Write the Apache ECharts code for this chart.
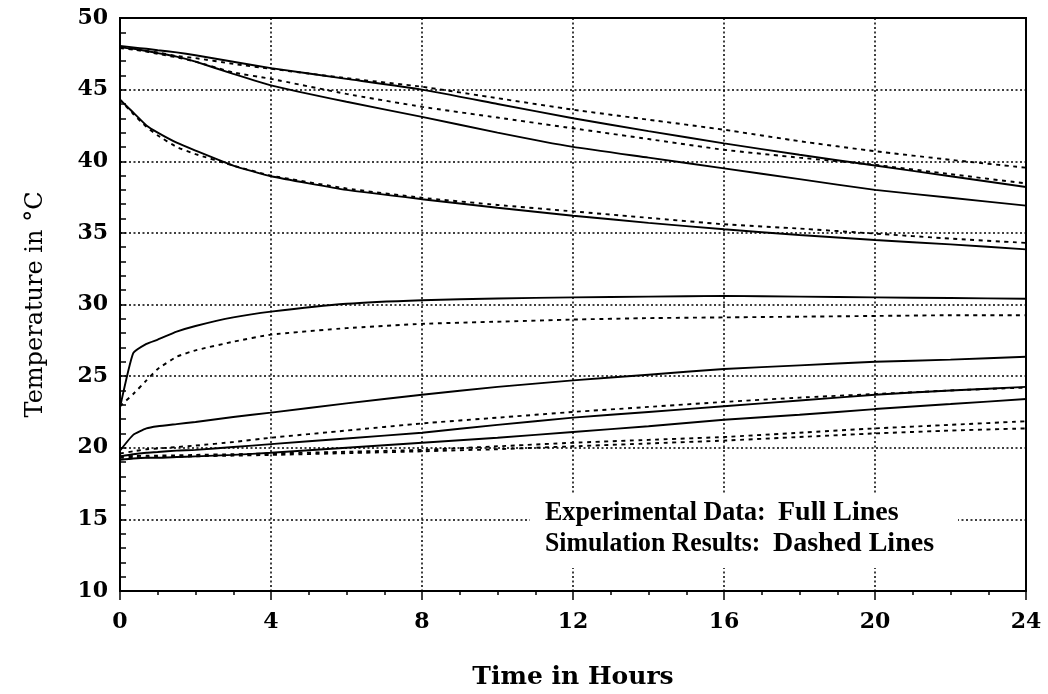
<!DOCTYPE html>
<html>
<head>
<meta charset="utf-8">
<script src="https://cdn.jsdelivr.net/npm/echarts@6/dist/echarts.min.js"></script>
<style>
html,body{margin:0;padding:0;background:#fff;}
#chart{width:1048px;height:694px;}
</style>
</head>
<body>
<div id="chart"></div>
<script>
// Time axis (hours) shared by all curves
const hours = [0, 0.35, 0.7, 1, 1.5, 2, 3, 4, 6, 8, 10, 12, 14, 16, 18, 20, 22, 24];

// Experimental data (full lines)
const exp1 = [48.05, 47.95, 47.85, 47.75, 47.6, 47.4, 46.95, 46.5, 45.75, 45.0, 44.0, 43.0, 42.1, 41.25, 40.45, 39.7, 38.95, 38.2];
const exp2 = [47.95, 47.85, 47.7, 47.55, 47.3, 46.95, 46.1, 45.3, 44.15, 43.1, 42.0, 41.0, 40.25, 39.5, 38.75, 38.0, 37.45, 36.9];
const exp3 = [44.3, 43.4, 42.5, 42.0, 41.3, 40.75, 39.7, 38.95, 38.0, 37.35, 36.75, 36.2, 35.7, 35.25, 34.85, 34.5, 34.2, 33.85];
const exp4 = [22.8, 26.6, 27.25, 27.55, 28.1, 28.5, 29.1, 29.5, 30.05, 30.3, 30.42, 30.5, 30.55, 30.6, 30.55, 30.5, 30.45, 30.4];
const exp5 = [19.8, 20.9, 21.35, 21.5, 21.65, 21.8, 22.15, 22.45, 23.1, 23.7, 24.25, 24.7, 25.1, 25.5, 25.75, 26.0, 26.15, 26.35];
const exp6 = [19.4, 19.55, 19.65, 19.7, 19.8, 19.85, 20.05, 20.25, 20.65, 21.05, 21.6, 22.1, 22.5, 22.9, 23.3, 23.7, 24.0, 24.25];
const exp7 = [19.15, 19.25, 19.3, 19.3, 19.35, 19.4, 19.5, 19.65, 20.0, 20.35, 20.7, 21.1, 21.5, 21.95, 22.3, 22.7, 23.05, 23.4];

// Simulation results (dashed lines)
const sim1 = [47.95, 47.85, 47.7, 47.6, 47.35, 47.2, 46.8, 46.45, 45.8, 45.2, 44.4, 43.6, 42.9, 42.2, 41.4, 40.7, 40.1, 39.55];
const sim2 = [47.9, 47.8, 47.65, 47.5, 47.25, 46.95, 46.2, 45.75, 44.7, 43.8, 43.05, 42.3, 41.55, 40.8, 40.25, 39.75, 39.1, 38.45];
const sim3 = [44.3, 43.3, 42.4, 41.8, 41.0, 40.5, 39.7, 39.0, 38.1, 37.45, 36.95, 36.5, 36.05, 35.6, 35.3, 34.95, 34.6, 34.3];
const sim4 = [22.9, 23.75, 24.7, 25.5, 26.35, 26.8, 27.4, 27.9, 28.35, 28.65, 28.8, 28.95, 29.05, 29.1, 29.15, 29.2, 29.25, 29.25];
const sim5 = [19.6, 19.75, 19.9, 19.95, 20.05, 20.15, 20.4, 20.7, 21.2, 21.7, 22.1, 22.5, 22.85, 23.2, 23.5, 23.75, 24.0, 24.2];
const sim6 = [19.4, 19.42, 19.44, 19.45, 19.47, 19.5, 19.55, 19.6, 19.72, 19.85, 20.1, 20.35, 20.55, 20.75, 21.05, 21.35, 21.6, 21.85];
const sim7 = [19.3, 19.32, 19.33, 19.35, 19.37, 19.4, 19.45, 19.5, 19.62, 19.75, 19.9, 20.1, 20.3, 20.5, 20.75, 21.0, 21.2, 21.35];

// Axis settings / labels
const xMin = 0, xMax = 24, xStep = 4;
const yMin = 10, yMax = 50, yStep = 5;
const xTitle = 'Time in Hours';
const yTitle = 'Temperature in \u00B0C';
const legendRow1 = ['Experimental Data:', 'Full Lines'];
const legendRow2 = ['Simulation Results:', 'Dashed Lines'];

const expSeries = [exp1, exp2, exp3, exp4, exp5, exp6, exp7];
const simSeries = [sim1, sim2, sim3, sim4, sim5, sim6, sim7];

function pairs(vals) { return hours.map((h, i) => [h, vals[i]]); }

const series = [];
expSeries.forEach((v, i) => series.push({
  name: 'exp' + (i + 1), type: 'line', data: pairs(v), showSymbol: false, smooth: 0.15,
  lineStyle: { color: '#000', width: 1.9, type: 'solid' }, z: 5, silent: true
}));
simSeries.forEach((v, i) => series.push({
  name: 'sim' + (i + 1), type: 'line', data: pairs(v), showSymbol: false, smooth: 0.15,
  lineStyle: { color: '#000', width: 1.9, type: [4, 4.5] }, z: 4, silent: true
}));

const tickFont = { fontFamily: 'DejaVu Serif', fontWeight: 'bold', fontSize: 22, color: '#000' };
const gridDots = { show: true, lineStyle: { color: '#000', width: 1.5, type: [2, 2.5] } };
const legendFont = 'bold 28px "Liberation Serif"';

const chart = echarts.init(document.getElementById('chart'), null, { renderer: 'canvas' });
chart.setOption({
  backgroundColor: '#fff',
  animation: false,
  grid: { left: 120, right: 22, top: 18, bottom: 103, containLabel: false, outerBoundsMode: 'none',
          show: true, borderColor: '#000', borderWidth: 2, backgroundColor: 'transparent' },
  xAxis: {
    type: 'value', min: xMin, max: xMax, interval: xStep,
    name: xTitle, nameLocation: 'middle', nameGap: 74,
    nameTextStyle: { fontFamily: 'DejaVu Serif', fontWeight: 'bold', fontSize: 25, color: '#000' },
    axisLine: { show: true, lineStyle: { color: '#000', width: 2 } },
    axisTick: { show: true, inside: false, length: 9, lineStyle: { color: '#000', width: 1.5 } },
    minorTick: { show: true, splitNumber: 4, length: 4, lineStyle: { color: '#000', width: 1.5 } },
    axisLabel: Object.assign({ margin: 20 }, tickFont),
    splitLine: gridDots
  },
  yAxis: {
    type: 'value', min: yMin, max: yMax, interval: yStep,
    name: yTitle, nameLocation: 'middle', nameGap: 72, nameRotate: 90,
    nameTextStyle: { fontFamily: 'DejaVu Serif', fontWeight: 'normal', fontSize: 24, color: '#000' },
    axisLine: { show: true, lineStyle: { color: '#000', width: 2 } },
    axisTick: { show: true, inside: true, length: 6, lineStyle: { color: '#000', width: 1.5 } },
    minorTick: { show: true, splitNumber: 5, length: 6, lineStyle: { color: '#000', width: 1.5 } },
    axisLabel: Object.assign({ margin: 12 }, tickFont),
    splitLine: gridDots
  },
  graphic: [
    { type: 'rect', left: 530, top: 494, shape: { width: 428, height: 74 }, style: { fill: '#fff' }, z: 50, silent: true },
    { type: 'text', x: 545, y: 499, scaleX: 0.93, z: 51, style: { text: legendRow1[0], font: legendFont, fill: '#000' } },
    { type: 'text', x: 778, y: 499, z: 51, style: { text: legendRow1[1], font: legendFont, fill: '#000' } },
    { type: 'text', x: 545, y: 530, scaleX: 0.92, z: 51, style: { text: legendRow2[0], font: legendFont, fill: '#000' } },
    { type: 'text', x: 773, y: 530, z: 51, style: { text: legendRow2[1], font: legendFont, fill: '#000' } }
  ],
  series: series
});
</script>
</body>
</html>
